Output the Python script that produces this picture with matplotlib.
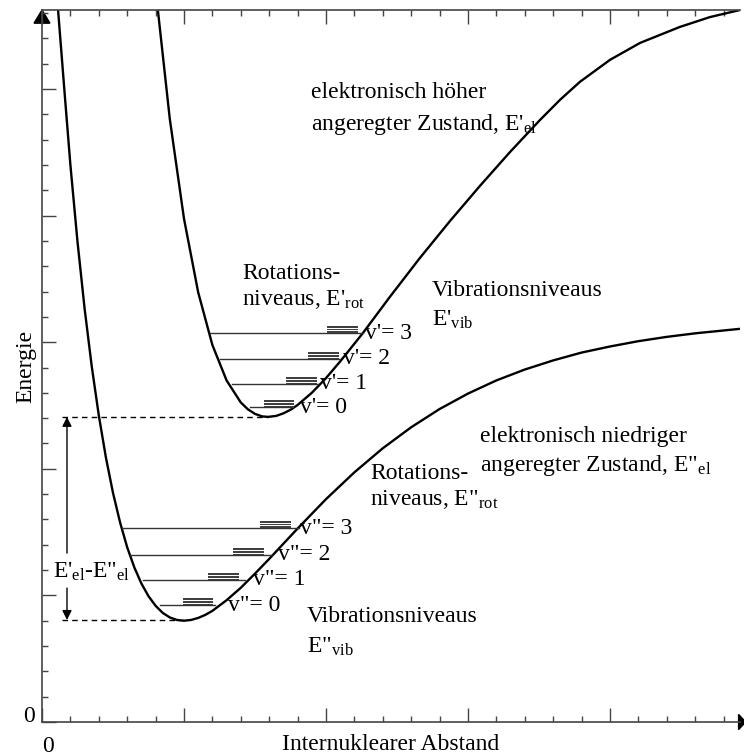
import matplotlib
matplotlib.use("Agg")
import matplotlib.pyplot as plt
from matplotlib.patches import Polygon

plt.rcParams['font.family'] = ['Liberation Serif', 'DejaVu Serif']
plt.rcParams['mathtext.fontset'] = 'custom'
plt.rcParams['mathtext.rm'] = 'Liberation Serif'
plt.rcParams['mathtext.it'] = 'Liberation Serif'

# potential curves, axis units = one minor tick
lower_x = [0.56, 0.8, 1.0, 1.25, 1.5, 1.75, 2.0, 2.25, 2.5, 2.75, 3.0, 3.25, 3.5, 3.75, 4.0, 4.25, 4.5,
           4.75, 5.0, 5.25, 5.5, 5.75, 6.0, 6.5, 7.0, 7.5, 8.0, 8.5, 9.0, 10, 11, 12, 13, 14, 15, 16, 17,
           18, 19, 20, 21, 22, 23, 24.6]
lower_y = [28.2, 24.79, 22.0, 18.97, 16.33, 14.06, 12.11, 10.45, 9.05, 7.88, 6.90, 6.11, 5.47, 4.97, 4.59,
           4.31, 4.13, 4.03, 4.0, 4.03, 4.11, 4.23, 4.39, 4.81, 5.30, 5.86, 6.44, 7.04, 7.64, 8.80, 9.86,
           10.81, 11.64, 12.36, 12.97, 13.49, 13.92, 14.28, 14.59, 14.83, 15.04, 15.21, 15.35, 15.53]

upper_x = [4.08, 4.5, 5.0, 5.5, 6.0, 6.5, 7.0, 7.25, 7.5, 7.75, 7.96, 8.25, 8.5, 8.75, 9.0, 9.5, 10.0,
           10.5, 11.3, 12.25, 13.31, 14.37, 15.42, 16.48, 17.54, 18.24, 18.94, 20.0, 21.06, 22.46,
           23.52, 24.58]
upper_y = [28.12, 23.82, 19.88, 16.97, 14.89, 13.49, 12.62, 12.35, 12.17, 12.07, 12.05, 12.09, 12.19,
           12.33, 12.52, 13.0, 13.58, 14.24, 15.36, 16.79, 18.33, 19.79, 21.17, 22.51, 23.78, 24.57,
           25.28, 26.15, 26.82, 27.45, 27.84, 28.12]

# vibrational levels: energy, left end, right end
lower_lvl_y = [4.62, 5.61, 6.60, 7.66]
lower_lvl_x0 = [4.15, 3.56, 3.10, 2.82]
lower_lvl_x1 = [6.10, 7.15, 8.10, 9.05]
upper_lvl_y = [12.44, 13.35, 14.34, 15.36]
upper_lvl_x0 = [7.32, 6.69, 6.27, 5.92]
upper_lvl_x1 = [8.84, 9.72, 10.49, 11.30]

# rotational sub-levels (start/end of each bundle)
lower_rot_x0 = [4.96, 5.85, 6.73, 7.68]
lower_rot_x1 = [5.99, 6.90, 7.78, 8.73]
upper_rot_x0 = [7.82, 8.59, 9.37, 10.04]
upper_rot_x1 = [8.84, 9.65, 10.42, 11.09]
rot_offsets = [0.04, 0.10, 0.17, 0.23, 0.29]

lower_labels = ['v"= 0', 'v"= 1', 'v"= 2', 'v"= 3']
lower_label_x = [6.55, 7.43, 8.31, 9.08]
upper_labels = ["v'= 0", "v'= 1", "v'= 2", "v'= 3"]
upper_label_x = [9.08, 9.79, 10.60, 11.37]

e_upper_min = 12.05
e_lower_min = 4.03
r_upper_min = 7.96
r_lower_min = 5.0

xmax, ymax = 24.58, 28.12

fig = plt.figure(figsize=(7.44, 7.56), dpi=100)
ax = fig.add_axes([42 / 744, 34 / 756, 698 / 744, 712 / 756])
ax.set_xlim(0, xmax)
ax.set_ylim(0, ymax)

ax.plot(lower_x, lower_y, color='black', lw=1.7, solid_joinstyle='round')
ax.plot(upper_x, upper_y, color='black', lw=1.7, solid_joinstyle='round')

for y, x0, x1 in zip(lower_lvl_y + upper_lvl_y, lower_lvl_x0 + upper_lvl_x0, lower_lvl_x1 + upper_lvl_x1):
    ax.plot([x0, x1], [y, y], color='#333333', lw=1.0)

for y, x0, x1 in zip(lower_lvl_y + upper_lvl_y, lower_rot_x0 + upper_rot_x0, lower_rot_x1 + upper_rot_x1):
    for off in rot_offsets:
        ax.plot([x0, x1], [y + off, y + off], color='#3a3a3a', lw=0.7)

fs = 17
for lab, x, y in zip(lower_labels, lower_label_x, lower_lvl_y):
    ax.text(x, y, lab, fontsize=fs, va='center', ha='left')
for lab, x, y in zip(upper_labels, upper_label_x, upper_lvl_y):
    ax.text(x, y, lab, fontsize=fs, va='center', ha='left')

# minima markers and energy gap
ax.plot([0.7, r_upper_min], [e_upper_min, e_upper_min], color='black', lw=1.0, ls=(0, (4, 3)))
ax.plot([0.7, r_lower_min], [e_lower_min, e_lower_min], color='black', lw=1.0, ls=(0, (4, 3)))
arr = dict(arrowstyle='-|>', color='black', lw=1.0, mutation_scale=14, shrinkA=0, shrinkB=0)
ax.annotate('', xy=(0.88, e_upper_min), xytext=(0.88, 6.67), arrowprops=arr)
ax.annotate('', xy=(0.88, e_lower_min), xytext=(0.88, 5.29), arrowprops=arr)
ax.text(0.39, 5.92, "E'$_{\\rm el}$-E\"$_{\\rm el}$", fontsize=fs, va='center', ha='left')

ax.text(9.47, 24.88, "elektronisch höher", fontsize=fs, va='center', ha='left')
ax.text(9.47, 23.58, "angeregter Zustand, E'$_{\\rm el}$", fontsize=fs, va='center', ha='left')
ax.text(7.04, 17.73, "Rotations-", fontsize=fs, va='center', ha='left')
ax.text(7.04, 16.67, "niveaus, E'$_{\\rm rot}$", fontsize=fs, va='center', ha='left')
ax.text(13.73, 17.06, "Vibrationsniveaus", fontsize=fs, va='center', ha='left')
ax.text(13.73, 15.88, "E'$_{\\rm vib}$", fontsize=fs, va='center', ha='left')
ax.text(15.42, 11.26, "elektronisch niedriger", fontsize=fs, va='center', ha='left')
ax.text(15.42, 10.15, "angeregter Zustand, E\"$_{\\rm el}$", fontsize=fs, va='center', ha='left')
ax.text(11.55, 9.83, "Rotations-", fontsize=fs, va='center', ha='left')
ax.text(11.55, 8.77, "niveaus, E\"$_{\\rm rot}$", fontsize=fs, va='center', ha='left')
ax.text(9.33, 4.15, "Vibrationsniveaus", fontsize=fs, va='center', ha='left')
ax.text(9.33, 2.96, "E\"$_{\\rm vib}$", fontsize=fs, va='center', ha='left')

# axes
for s in ['left', 'bottom', 'top']:
    ax.spines[s].set_color('#444444')
    ax.spines[s].set_linewidth(1.2)
ax.spines['right'].set_visible(False)
ax.set_xticks(range(0, 25, 5))
ax.set_xticks(range(0, 25), minor=True)
ax.set_yticks(range(0, 29, 5))
ax.set_yticks(range(0, 29), minor=True)
ax.tick_params(which='both', direction='in', colors='#444444', labelleft=False, labelbottom=False,
               top=True, right=False)
ax.tick_params(which='major', length=10, width=1.0)
ax.tick_params(which='minor', length=4, width=1.0)

ax.text(-0.25, -0.2, '0', fontsize=fs, ha='right', va='bottom')
ax.text(0.0, -0.55, '0', fontsize=fs, ha='left', va='top')
ax.set_xlabel('Internuklearer Abstand', fontsize=fs, labelpad=9)
ax.set_ylabel('Energie', fontsize=fs, labelpad=4)

ax.add_patch(Polygon([[0, ymax], [-0.28, ymax - 0.52], [0.28, ymax - 0.52]], closed=True,
                     color='black', clip_on=False))
ax.add_patch(Polygon([[xmax + 0.2, 0], [xmax - 0.05, 0.3], [xmax - 0.05, -0.3]], closed=True,
                     color='black', clip_on=False))

fig.savefig('out.png', dpi=100)
